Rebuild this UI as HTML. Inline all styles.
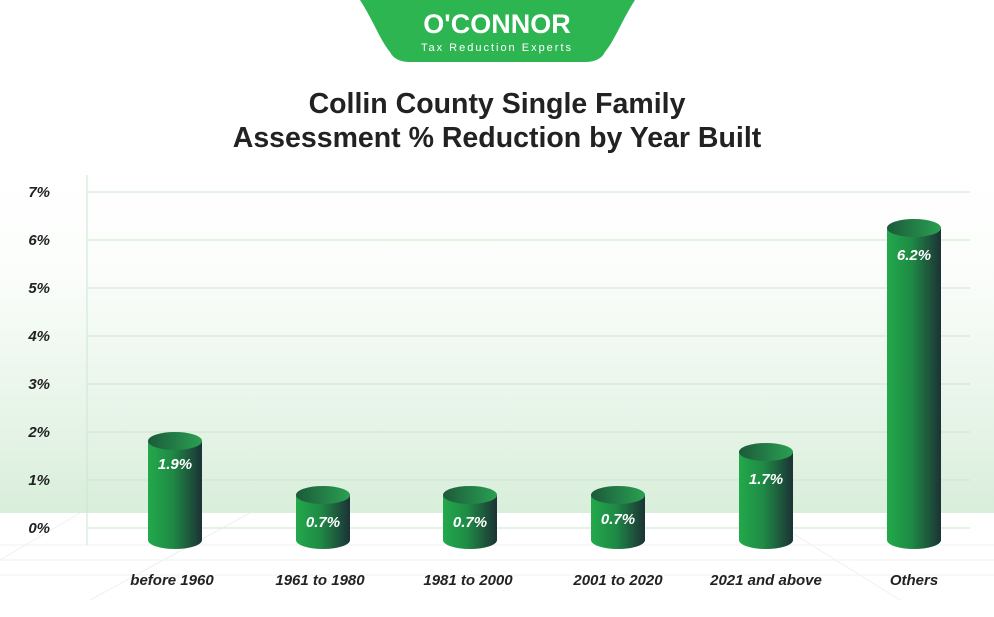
<!DOCTYPE html>
<html><head><meta charset="utf-8"><style>
body{margin:0;width:994px;height:612px;overflow:hidden;background:#fff;font-family:"Liberation Sans",Arial,sans-serif}
</style></head><body>
<svg width="994" height="612" viewBox="0 0 994 612" xmlns="http://www.w3.org/2000/svg">
<defs>
<linearGradient id="bg" x1="0" y1="0" x2="0" y2="1">
<stop offset="0" stop-color="#ffffff"/><stop offset="0.3" stop-color="#fbfdfb"/><stop offset="1" stop-color="#d9eedb"/>
</linearGradient>
<linearGradient id="cyl" x1="0" y1="0" x2="1" y2="0">
<stop offset="0" stop-color="#22a94b"/><stop offset="0.45" stop-color="#1f8a45"/><stop offset="1" stop-color="#1c3236"/>
</linearGradient>
<linearGradient id="top" x1="0" y1="0" x2="1" y2="0">
<stop offset="0" stop-color="#1c5a3a"/><stop offset="1" stop-color="#2aa052"/>
</linearGradient>
</defs>
<rect x="0" y="170" width="994" height="343" fill="url(#bg)"/>
<g stroke="#f0f0f0" stroke-width="1">
<line x1="0" y1="545" x2="994" y2="545"/><line x1="0" y1="560" x2="994" y2="560"/><line x1="0" y1="575" x2="994" y2="575"/>
<line x1="80" y1="513" x2="0" y2="560"/><line x1="250" y1="513" x2="90" y2="600"/><line x1="760" y1="513" x2="900" y2="600"/>
</g>
<g stroke="#cbe6cf" stroke-width="1">
<line x1="88" y1="192" x2="970" y2="192"/><line x1="88" y1="240" x2="970" y2="240"/><line x1="88" y1="288" x2="970" y2="288"/>
<line x1="88" y1="336" x2="970" y2="336"/><line x1="88" y1="384" x2="970" y2="384"/><line x1="88" y1="432" x2="970" y2="432"/>
<line x1="88" y1="480" x2="970" y2="480"/><line x1="88" y1="528" x2="970" y2="528"/>
<line x1="87" y1="175" x2="87" y2="545"/>
</g>
<g font-size="15" font-weight="bold" font-style="italic" fill="#222" text-anchor="end">
<text x="50" y="197">7%</text><text x="50" y="245">6%</text><text x="50" y="293">5%</text><text x="50" y="341">4%</text>
<text x="50" y="389">3%</text><text x="50" y="437">2%</text><text x="50" y="485">1%</text><text x="50" y="533">0%</text>
</g>
<path d="M360 0 H635 C622 20 615 40 605 52 Q600 62 585 62 H410 Q395 62 390 52 C380 40 373 20 360 0Z" fill="#2db552"/>
<text x="497" y="33" font-size="27" font-weight="bold" fill="#fff" text-anchor="middle">O'CONNOR</text>
<text x="497" y="51" font-size="11" fill="#fff" text-anchor="middle" letter-spacing="2">Tax Reduction Experts</text>
<g font-size="28.5" font-weight="bold" fill="#222" text-anchor="middle">
<text x="497" y="113">Collin County Single Family</text>
<text x="497" y="147">Assessment % Reduction by Year Built</text>
</g>
<g>
<path d="M148 441 V540 A27 9 0 0 0 202 540 V441Z" fill="url(#cyl)"/><ellipse cx="175" cy="441" rx="27" ry="9" fill="url(#top)"/>
<path d="M296 495 V540 A27 9 0 0 0 350 540 V495Z" fill="url(#cyl)"/><ellipse cx="323" cy="495" rx="27" ry="9" fill="url(#top)"/>
<path d="M443 495 V540 A27 9 0 0 0 497 540 V495Z" fill="url(#cyl)"/><ellipse cx="470" cy="495" rx="27" ry="9" fill="url(#top)"/>
<path d="M591 495 V540 A27 9 0 0 0 645 540 V495Z" fill="url(#cyl)"/><ellipse cx="618" cy="495" rx="27" ry="9" fill="url(#top)"/>
<path d="M739 452 V540 A27 9 0 0 0 793 540 V452Z" fill="url(#cyl)"/><ellipse cx="766" cy="452" rx="27" ry="9" fill="url(#top)"/>
<path d="M887 228 V540 A27 9 0 0 0 941 540 V228Z" fill="url(#cyl)"/><ellipse cx="914" cy="228" rx="27" ry="9" fill="url(#top)"/>
</g>
<g font-size="15" font-weight="bold" font-style="italic" fill="#fff" text-anchor="middle">
<text x="175" y="469">1.9%</text><text x="323" y="527">0.7%</text><text x="470" y="527">0.7%</text>
<text x="618" y="524">0.7%</text><text x="766" y="484">1.7%</text><text x="914" y="260">6.2%</text>
</g>
<g font-size="15" font-weight="bold" font-style="italic" fill="#222" text-anchor="middle">
<text x="172" y="585">before 1960</text><text x="320" y="585">1961 to 1980</text><text x="468" y="585">1981 to 2000</text>
<text x="618" y="585">2001 to 2020</text><text x="766" y="585">2021 and above</text><text x="914" y="585">Others</text>
</g>
</svg>
</body></html>
